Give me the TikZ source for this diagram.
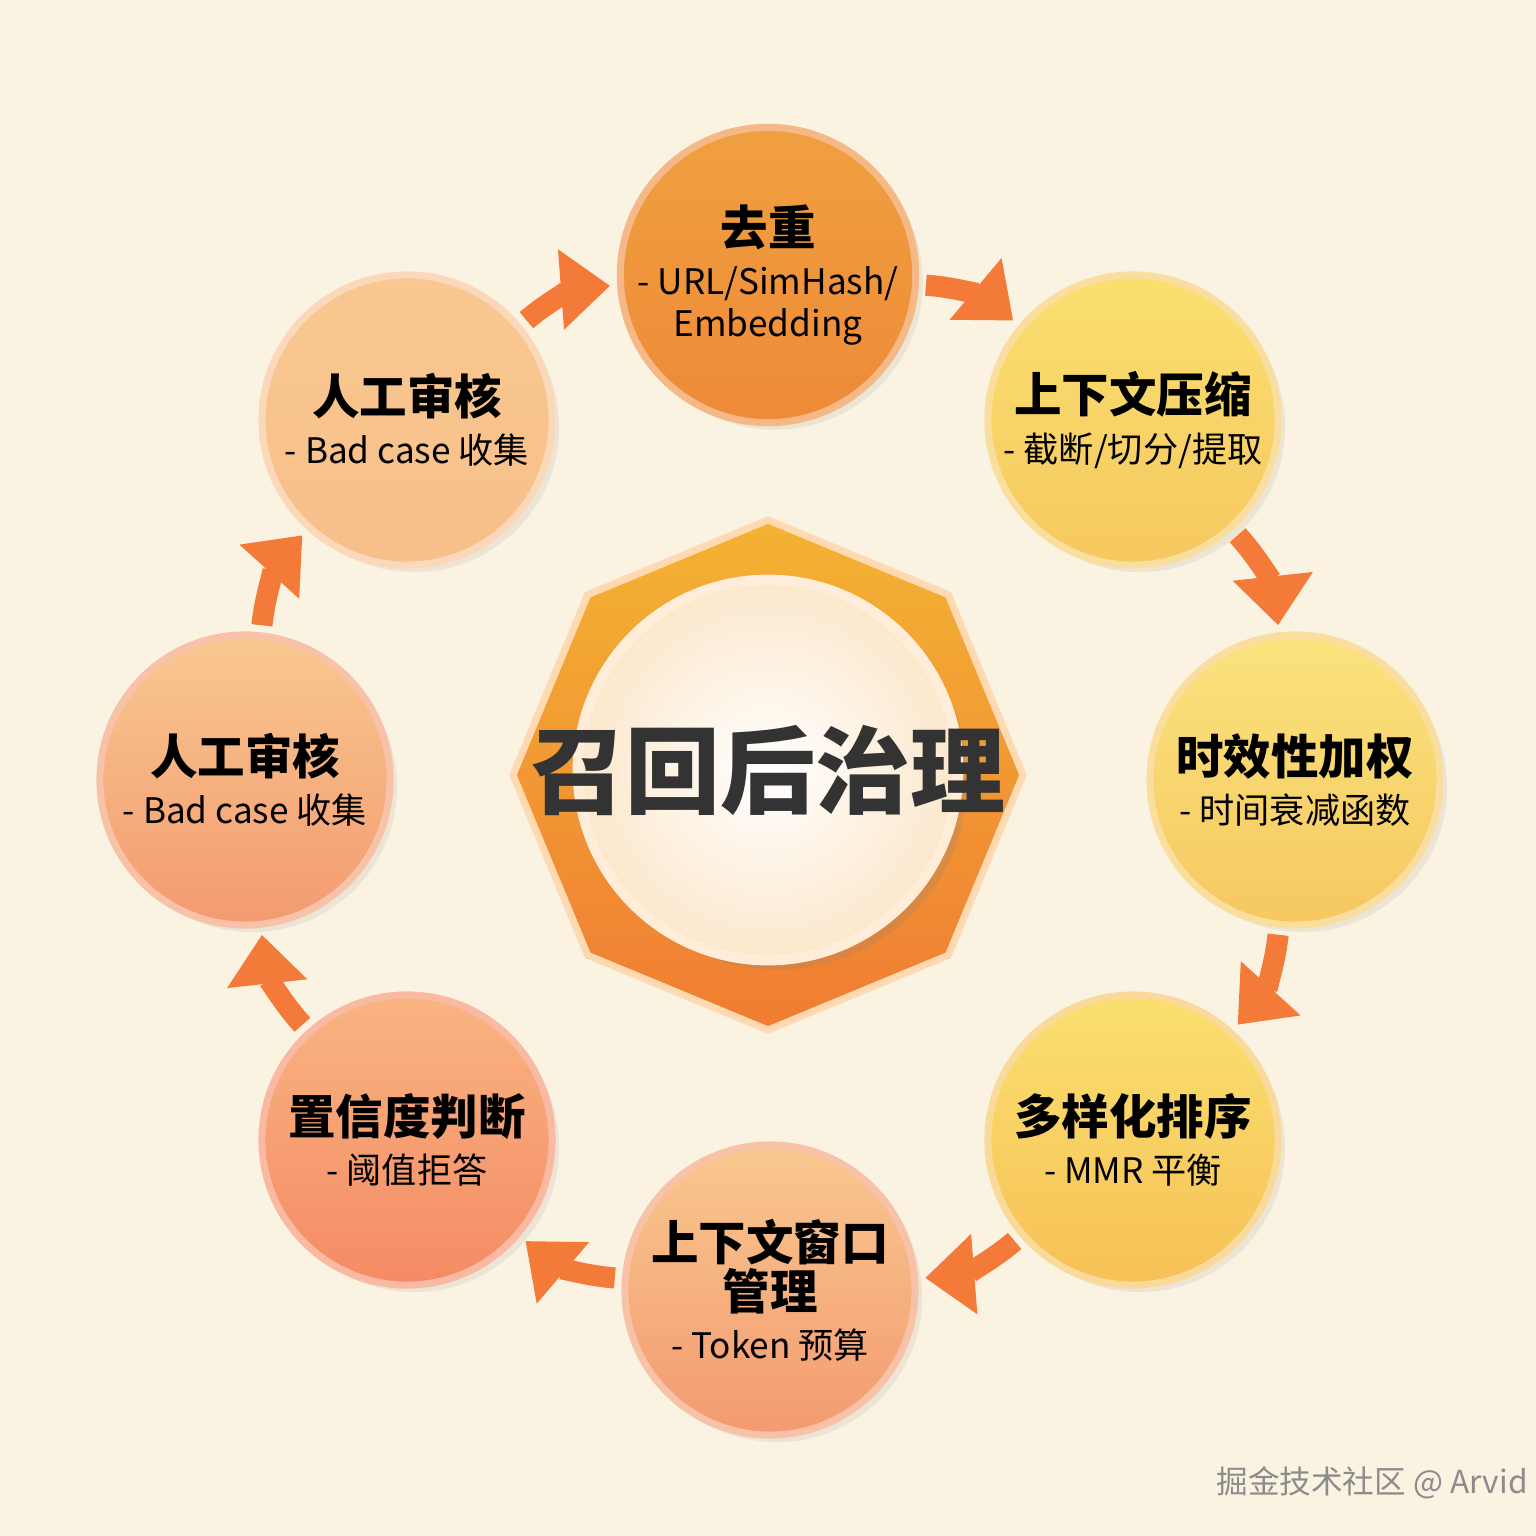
\documentclass[tikz,border=0pt]{standalone}
\usepackage{fontspec}
\setmainfont{Noto Sans CJK SC}
\usetikzlibrary{arrows.meta,shadows}
\definecolor{bg}{HTML}{FBF3E2}
\definecolor{cA}{HTML}{F0A040}
\definecolor{cAb}{HTML}{EE8A38}
\definecolor{cY}{HTML}{FAE070}
\definecolor{cYb}{HTML}{F6C860}
\definecolor{cO}{HTML}{F8C890}
\definecolor{cOb}{HTML}{F49A70}
\definecolor{arr}{HTML}{F47A3A}
\tikzset{
  stage/.style 2 args={circle,minimum size=2.9cm,inner sep=0pt,align=center,top color=#1,bottom color=#2,draw=#2!60!white,line width=2pt,drop shadow={opacity=0.12,shadow xshift=2pt,shadow yshift=-2pt}},
  flow/.style={line width=6pt,color=arr,-{Triangle[length=14pt,width=22pt]},shorten <=2pt,shorten >=2pt},
}
\newcommand{\sttl}[1]{{\fontsize{13.5}{17}\selectfont\bfseries #1}}
\newcommand{\stsub}[1]{{\fontsize{10}{13}\selectfont #1}}
\begin{document}
\begin{tikzpicture}[x=0.01cm,y=-0.01cm]
\fill[bg] (0,0) rectangle (1536,1536);
\useasboundingbox (0,0) rectangle (1536,1536);
\begin{scope}[shift={(768,775)}]
\fill[top color=cA!80!yellow,bottom color=cAb!90!red,draw=orange!30,line width=2pt]
  (0:255) -- (45:255) -- (90:255) -- (135:255) -- (180:255) -- (225:255) -- (270:255) -- (315:255) -- cycle;
\end{scope}
\node[circle,minimum size=3.8cm,inner sep=0pt,inner color=white,outer color=bg!90!orange,draw=white!85!orange,line width=3pt,drop shadow={opacity=0.2}] (c) at (768,770) {};
\node[font=\fontsize{27}{30}\selectfont\bfseries,text=black!80] (ct) at (768,770) {召回后治理};

\node[stage={cA}{cAb}] (n1) at (768,275) {\sttl{去重}\\[2pt]\stsub{- URL/SimHash/}\\\stsub{Embedding}};
\node[stage={cY}{cYb}] (n2) at (1133,420) {\sttl{上下文压缩}\\[2pt]\stsub{- 截断/切分/提取}};
\node[stage={cY!90!white}{cYb}] (n3) at (1295,780) {\sttl{时效性加权}\\[2pt]\stsub{- 时间衰减函数}};
\node[stage={cY}{cYb!90!orange}] (n4) at (1133,1140) {\sttl{多样化排序}\\[2pt]\stsub{- MMR 平衡}};
\node[stage={cO}{cOb}] (n5) at (770,1290) {\sttl{上下文窗口}\\\sttl{管理}\\[2pt]\stsub{- Token 预算}};
\node[stage={cO!90!red}{cOb!90!red}] (n6) at (407,1140) {\sttl{置信度判断}\\[2pt]\stsub{- 阈值拒答}};
\node[stage={cO}{cOb}] (n7) at (245,780) {\sttl{人工审核}\\[2pt]\stsub{- Bad case 收集}};
\node[stage={cO}{cO!80!cOb}] (n8) at (407,420) {\sttl{人工审核}\\[2pt]\stsub{- Bad case 收集}};

\draw[flow] (n1) to[bend left=18] (n2);
\draw[flow] (n2) to[bend left=18] (n3);
\draw[flow] (n3) to[bend left=18] (n4);
\draw[flow] (n4) to[bend left=18] (n5);
\draw[flow] (n5) to[bend left=18] (n6);
\draw[flow] (n6) to[bend left=18] (n7);
\draw[flow] (n7) to[bend left=18] (n8);
\draw[flow] (n8) to[bend left=18] (n1);

\node[text=black!45,font=\fontsize{9}{11}\selectfont] (wm) at (1372,1483) {掘金技术社区 @ Arvid};
\end{tikzpicture}
\end{document}
